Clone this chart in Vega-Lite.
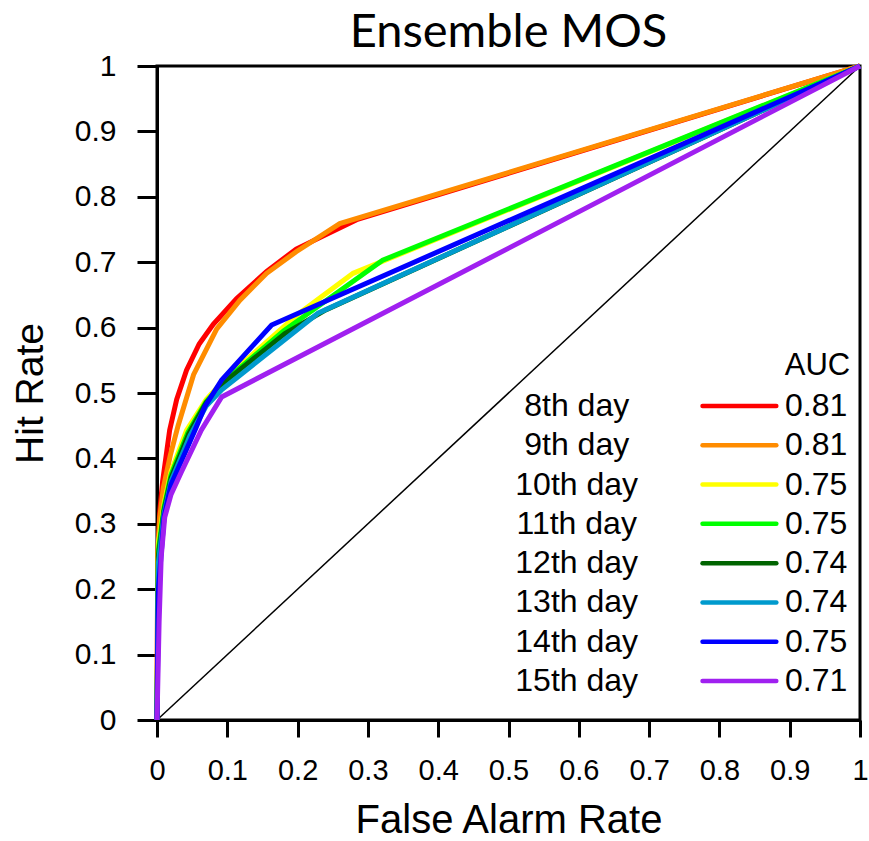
{
  "$schema": "https://vega.github.io/schema/vega-lite/v6.json",
  "width": 703,
  "height": 654,
  "autosize": "none",
  "padding": {"left": 157, "top": 66, "right": 9, "bottom": 121},
  "background": "white",
  "config": {
    "view": {"stroke": "black", "strokeWidth": 3},
    "font": "Liberation Sans"
  },
  "title": {
    "text": "Ensemble MOS",
    "font": "Lato",
    "fontSize": 47,
    "fontWeight": "normal",
    "color": "black",
    "anchor": "middle",
    "offset": -6
  },
  "datasets": {
    "roc": [
      {"day": "8th day", "far": 0, "hr": 0},
      {"day": "8th day", "far": 0.001, "hr": 0.25},
      {"day": "8th day", "far": 0.004, "hr": 0.32},
      {"day": "8th day", "far": 0.008, "hr": 0.365},
      {"day": "8th day", "far": 0.018, "hr": 0.443},
      {"day": "8th day", "far": 0.028, "hr": 0.49},
      {"day": "8th day", "far": 0.042, "hr": 0.535},
      {"day": "8th day", "far": 0.06, "hr": 0.575},
      {"day": "8th day", "far": 0.08, "hr": 0.605},
      {"day": "8th day", "far": 0.113, "hr": 0.644},
      {"day": "8th day", "far": 0.156, "hr": 0.686},
      {"day": "8th day", "far": 0.198, "hr": 0.72},
      {"day": "8th day", "far": 0.284, "hr": 0.765},
      {"day": "8th day", "far": 1, "hr": 1},
      {"day": "9th day", "far": 0, "hr": 0},
      {"day": "9th day", "far": 0.001, "hr": 0.25},
      {"day": "9th day", "far": 0.004, "hr": 0.31},
      {"day": "9th day", "far": 0.009, "hr": 0.355},
      {"day": "9th day", "far": 0.019, "hr": 0.405},
      {"day": "9th day", "far": 0.03, "hr": 0.45},
      {"day": "9th day", "far": 0.052, "hr": 0.528},
      {"day": "9th day", "far": 0.085, "hr": 0.598},
      {"day": "9th day", "far": 0.118, "hr": 0.642},
      {"day": "9th day", "far": 0.156, "hr": 0.683},
      {"day": "9th day", "far": 0.198, "hr": 0.716},
      {"day": "9th day", "far": 0.26, "hr": 0.759},
      {"day": "9th day", "far": 1, "hr": 1},
      {"day": "10th day", "far": 0, "hr": 0},
      {"day": "10th day", "far": 0.002, "hr": 0.27},
      {"day": "10th day", "far": 0.01, "hr": 0.33},
      {"day": "10th day", "far": 0.02, "hr": 0.38},
      {"day": "10th day", "far": 0.042, "hr": 0.443},
      {"day": "10th day", "far": 0.07, "hr": 0.49},
      {"day": "10th day", "far": 0.1, "hr": 0.525},
      {"day": "10th day", "far": 0.2, "hr": 0.62},
      {"day": "10th day", "far": 0.279, "hr": 0.683},
      {"day": "10th day", "far": 1, "hr": 1},
      {"day": "11th day", "far": 0, "hr": 0},
      {"day": "11th day", "far": 0.002, "hr": 0.26},
      {"day": "11th day", "far": 0.01, "hr": 0.325},
      {"day": "11th day", "far": 0.02, "hr": 0.375},
      {"day": "11th day", "far": 0.044, "hr": 0.44},
      {"day": "11th day", "far": 0.07, "hr": 0.487},
      {"day": "11th day", "far": 0.1, "hr": 0.522},
      {"day": "11th day", "far": 0.18, "hr": 0.595},
      {"day": "11th day", "far": 0.321, "hr": 0.703},
      {"day": "11th day", "far": 1, "hr": 1},
      {"day": "12th day", "far": 0, "hr": 0},
      {"day": "12th day", "far": 0.002, "hr": 0.25},
      {"day": "12th day", "far": 0.01, "hr": 0.32},
      {"day": "12th day", "far": 0.02, "hr": 0.37},
      {"day": "12th day", "far": 0.045, "hr": 0.437},
      {"day": "12th day", "far": 0.07, "hr": 0.485},
      {"day": "12th day", "far": 0.1, "hr": 0.52},
      {"day": "12th day", "far": 0.182, "hr": 0.591},
      {"day": "12th day", "far": 0.24, "hr": 0.627},
      {"day": "12th day", "far": 1, "hr": 1},
      {"day": "13th day", "far": 0, "hr": 0},
      {"day": "13th day", "far": 0.002, "hr": 0.24},
      {"day": "13th day", "far": 0.01, "hr": 0.315},
      {"day": "13th day", "far": 0.02, "hr": 0.365},
      {"day": "13th day", "far": 0.047, "hr": 0.435},
      {"day": "13th day", "far": 0.07, "hr": 0.48},
      {"day": "13th day", "far": 0.092, "hr": 0.505},
      {"day": "13th day", "far": 0.229, "hr": 0.622},
      {"day": "13th day", "far": 1, "hr": 1},
      {"day": "14th day", "far": 0, "hr": 0},
      {"day": "14th day", "far": 0.002, "hr": 0.2},
      {"day": "14th day", "far": 0.01, "hr": 0.31},
      {"day": "14th day", "far": 0.02, "hr": 0.36},
      {"day": "14th day", "far": 0.054, "hr": 0.443},
      {"day": "14th day", "far": 0.068, "hr": 0.479},
      {"day": "14th day", "far": 0.092, "hr": 0.52},
      {"day": "14th day", "far": 0.163, "hr": 0.604},
      {"day": "14th day", "far": 1, "hr": 1},
      {"day": "15th day", "far": 0, "hr": 0},
      {"day": "15th day", "far": 0.003, "hr": 0.15},
      {"day": "15th day", "far": 0.006, "hr": 0.25},
      {"day": "15th day", "far": 0.011, "hr": 0.31},
      {"day": "15th day", "far": 0.02, "hr": 0.345},
      {"day": "15th day", "far": 0.035, "hr": 0.38},
      {"day": "15th day", "far": 0.063, "hr": 0.443},
      {"day": "15th day", "far": 0.092, "hr": 0.494},
      {"day": "15th day", "far": 1, "hr": 1}
    ],
    "legend": [
      {"day": "8th day", "auc": "0.81"},
      {"day": "9th day", "auc": "0.81"},
      {"day": "10th day", "auc": "0.75"},
      {"day": "11th day", "auc": "0.75"},
      {"day": "12th day", "auc": "0.74"},
      {"day": "13th day", "auc": "0.74"},
      {"day": "14th day", "auc": "0.75"},
      {"day": "15th day", "auc": "0.71"}
    ],
    "diag": [
      {"far": 0, "hr": 0},
      {"far": 1, "hr": 1}
    ]
  },
  "layer": [
    {
      "layer": [
        {
          "data": {"name": "diag"},
          "mark": {"type": "line", "color": "black", "strokeWidth": 1.5},
          "encoding": {
            "x": {
              "field": "far", "type": "quantitative",
              "scale": {"domain": [0, 1], "nice": false, "zero": false},
              "axis": {
                "title": "False Alarm Rate",
                "titleFont": "Liberation Sans", "titleFontSize": 40, "titleFontWeight": "normal", "titleColor": "black", "titlePadding": 15,
                "values": [0, 0.1, 0.2, 0.3, 0.4, 0.5, 0.6, 0.7, 0.8, 0.9, 1],
                "format": "~g",
                "labelFontSize": 29, "labelColor": "black", "labelPadding": 19, "labelFlush": false,
                "domainColor": "black", "domainWidth": 3,
                "tickColor": "black", "tickWidth": 3, "tickSize": 17,
                "grid": false
              }
            },
            "y": {
              "field": "hr", "type": "quantitative",
              "scale": {"domain": [0, 1], "nice": false, "zero": false},
              "axis": {
                "title": "Hit Rate",
                "titleFont": "Liberation Sans", "titleFontSize": 39, "titleFontWeight": "normal", "titleColor": "black", "titlePadding": 24,
                "values": [0, 0.1, 0.2, 0.3, 0.4, 0.5, 0.6, 0.7, 0.8, 0.9, 1],
                "format": "~g",
                "labelFontSize": 30, "labelColor": "black", "labelPadding": 21, "labelFlush": false,
                "domainColor": "black", "domainWidth": 3,
                "tickColor": "black", "tickWidth": 3, "tickSize": 20,
                "grid": false
              }
            }
          }
        },
        {
          "data": {"name": "roc"},
          "mark": {"type": "line", "strokeWidth": 5},
          "encoding": {
            "x": {"field": "far", "type": "quantitative"},
            "y": {"field": "hr", "type": "quantitative"},
            "color": {
              "field": "day", "type": "nominal",
              "scale": {
                "domain": ["8th day", "9th day", "10th day", "11th day", "12th day", "13th day", "14th day", "15th day"],
                "range": ["#ff0000", "#ff8c00", "#ffff00", "#00ff00", "#006400", "#009acd", "#0000ff", "#a020f0"]
              },
              "legend": null
            },
            "order": {"field": "far", "type": "quantitative"}
          }
        },
        {
          "data": {"values": [{"label": "AUC"}]},
          "mark": {"type": "text", "align": "right", "baseline": "middle", "fontSize": 31, "font": "Liberation Sans", "color": "black"},
          "encoding": {
            "x": {"datum": 0.986},
            "y": {"datum": 0.541},
            "text": {"field": "label"}
          }
        }
      ]
    },
    {
      "data": {"name": "legend"},
      "encoding": {
        "y": {
          "field": "day", "type": "nominal",
          "scale": {
            "type": "point",
            "domain": ["8th day", "9th day", "10th day", "11th day", "12th day", "13th day", "14th day", "15th day"],
            "range": [340, 615],
            "padding": 0
          },
          "axis": null
        }
      },
      "layer": [
        {
          "mark": {"type": "rule", "strokeWidth": 4.5, "strokeCap": "round"},
          "encoding": {
            "x": {"datum": 0.776},
            "x2": {"datum": 0.881},
            "color": {"field": "day", "type": "nominal", "legend": null}
          }
        },
        {
          "mark": {"type": "text", "align": "center", "baseline": "middle", "fontSize": 32, "font": "Liberation Sans", "color": "black"},
          "encoding": {
            "x": {"datum": 0.597},
            "text": {"field": "day"}
          }
        },
        {
          "mark": {"type": "text", "align": "right", "baseline": "middle", "fontSize": 32, "font": "Liberation Sans", "color": "black"},
          "encoding": {
            "x": {"datum": 0.982},
            "text": {"field": "auc"}
          }
        }
      ]
    }
  ],
  "resolve": {"scale": {"y": "independent"}}
}
